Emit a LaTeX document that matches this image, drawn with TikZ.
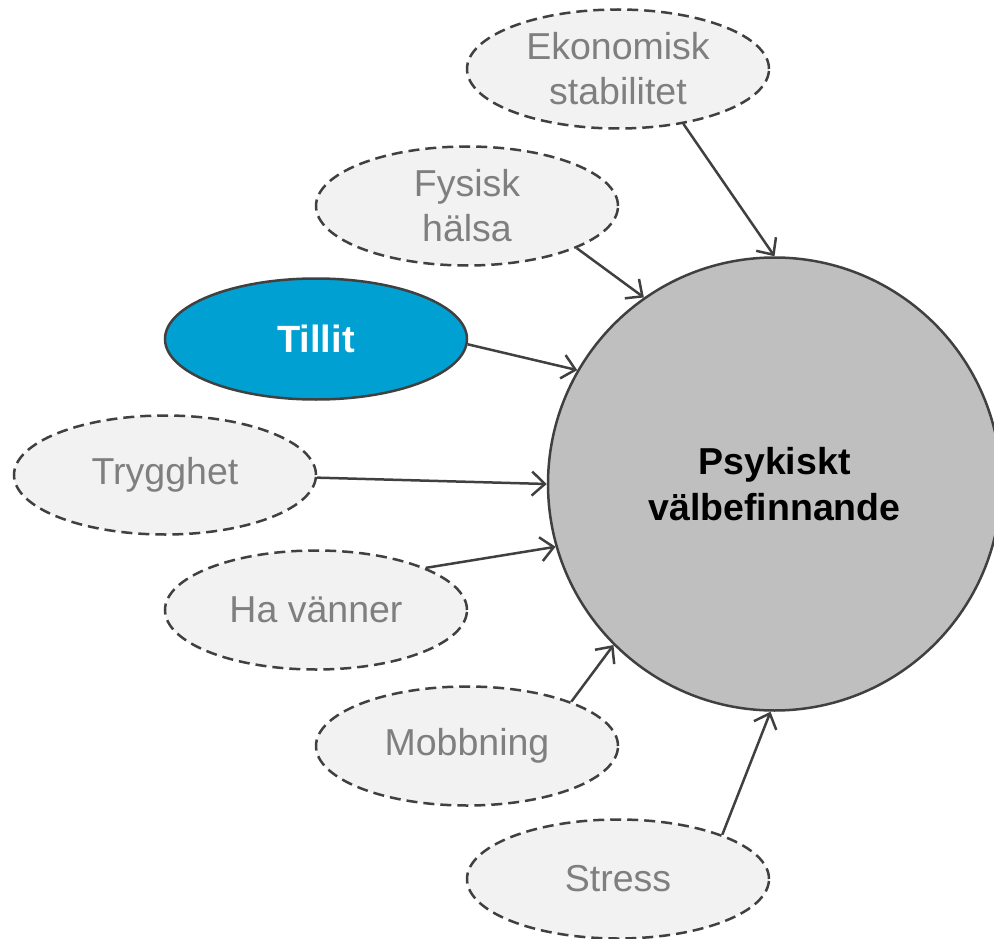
\documentclass[tikz,border=0pt]{standalone}
\usepackage{fontspec}
\setmainfont{Liberation Sans}
\usetikzlibrary{shapes.geometric,arrows.meta}
\definecolor{edgegray}{HTML}{404040}
\definecolor{lightfill}{HTML}{F2F2F2}
\definecolor{textgray}{HTML}{7F7F7F}
\definecolor{tillitblue}{HTML}{00A0D2}
\definecolor{circlefill}{HTML}{BFBFBF}
\begin{document}
\begin{tikzpicture}[x=1pt,y=-1pt,
  factor/.style={ellipse, draw=edgegray, line width=2.5pt, dash pattern=on 11pt off 6pt,
    fill=lightfill, minimum width=302pt, minimum height=119pt, inner sep=0pt,
    text=textgray, font=\fontsize{37.5}{45}\selectfont, align=center},
  keyfactor/.style={ellipse, draw=edgegray, line width=2.5pt, fill=tillitblue,
    minimum width=302pt, minimum height=121pt, inner sep=0pt,
    text=white, font=\fontsize{38}{45}\selectfont\bfseries, align=center},
  centre/.style={circle, draw=edgegray, line width=2.5pt, fill=circlefill,
    minimum size=453pt, inner sep=0pt, text=black,
    font=\fontsize{37.5}{46}\selectfont\bfseries, align=center},
  conn/.style={draw=edgegray, line width=2.5pt,
    -{Straight Barb[length=13pt,width=24pt,line width=2.5pt]}}
]
\useasboundingbox (0,0) rectangle (994,939);

\node[centre] (psy) at (774.5,484) {Psykiskt\\välbefinnande};

\node[factor] (eko) at (618,69) {Ekonomisk\\stabilitet};
\node[factor] (fys) at (467,206) {Fysisk\\hälsa};
\node[keyfactor] (til) at (316,339) {Tillit};
\node[factor] (try) at (165,475) {Trygghet};
\node[factor] (ha) at (316,610) {Ha vänner};
\node[factor] (mob) at (467,746) {Mobbning};
\node[factor] (str) at (618,879) {Stress};

\draw[conn] (eko.-40) -- (psy.90.5);
\draw[conn] (fys.-21) -- (psy.125.5);
\draw[conn] (til.-2) -- (psy.150.5);
\draw[conn] (try.-1) -- (psy.180);
\draw[conn] (ha.21.5) -- (psy.196.5);
\draw[conn] (mob.23) -- (psy.225.5);
\draw[conn] (str.23) -- (psy.269.5);
\end{tikzpicture}
\end{document}
